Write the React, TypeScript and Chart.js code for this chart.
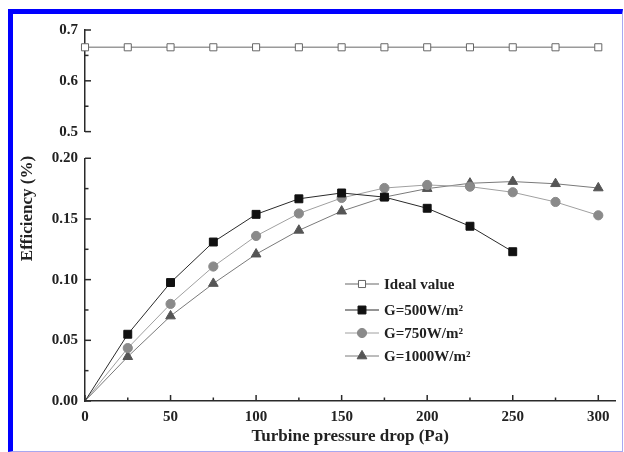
import React, { useEffect, useRef } from 'react';
import { Chart, registerables } from 'chart.js';

Chart.register(...registerables);

// ---- data ----
const pressureDrop = [0, 25, 50, 75, 100, 125, 150, 175, 200, 225, 250, 275, 300];
const idealValue = [0.666, 0.666, 0.666, 0.666, 0.666, 0.666, 0.666, 0.666, 0.666, 0.666, 0.666, 0.666, 0.666];
const g500 = [0, 0.055, 0.0976, 0.131, 0.1538, 0.1666, 0.1714, 0.168, 0.1588, 0.144, 0.123];
const g750 = [0, 0.0436, 0.08, 0.1108, 0.136, 0.1545, 0.1673, 0.1755, 0.178, 0.1766, 0.172, 0.164, 0.153];
const g1000 = [0, 0.0365, 0.07, 0.0968, 0.121, 0.1406, 0.1564, 0.168, 0.175, 0.1794, 0.1808, 0.179, 0.1755];
const seriesLabels = ['Ideal value', 'G=500W/m\u00B2', 'G=750W/m\u00B2', 'G=1000W/m\u00B2'];

const xTickLabels = ['0', '50', '100', '150', '200', '250', '300'];
const yTopTickLabels = ['0.5', '0.6', '0.7'];
const yBotTickLabels = ['0.00', '0.05', '0.10', '0.15', '0.20'];

const xTitle = 'Turbine pressure drop (Pa)';
const yTitle = 'Efficiency (%)';

const FONT = "'Liberation Serif', 'Times New Roman', serif";
const AXIS = '#2a2a2a';

const toPoints = (ys: number[]) => ys.map((y, i) => ({ x: pressureDrop[i], y }));

function labelFor(id: string, v: number): string {
  if (id === 'x') {
    const s = String(Math.round(v));
    return Math.abs(v - Math.round(v)) < 1e-6 && xTickLabels.includes(s) ? s : '';
  }
  if (id === 'yTop') {
    const s = v.toFixed(1);
    return Math.abs(v - parseFloat(s)) < 1e-6 && yTopTickLabels.includes(s) ? s : '';
  }
  const s = v.toFixed(2);
  return Math.abs(v - parseFloat(s)) < 1e-6 && yBotTickLabels.includes(s) ? s : '';
}

const tickPlugin = {
  id: 'innerTicks',
  afterDatasetsDraw(chart: any) {
    const ctx = chart.ctx;
    ctx.save();
    ctx.strokeStyle = AXIS;
    ctx.lineWidth = 1.5;
    for (const id of ['yTop', 'yBot']) {
      const s = chart.scales[id];
      const x0 = s.right;
      s.ticks.forEach((t: any) => {
        const y = s.getPixelForValue(t.value);
        const len = labelFor(id, t.value) ? 6 : 3.5;
        ctx.beginPath();
        ctx.moveTo(x0, y);
        ctx.lineTo(x0 + len, y);
        ctx.stroke();
      });
    }
    const sx = chart.scales.x;
    const y0 = sx.top;
    sx.ticks.forEach((t: any) => {
      if (Math.abs(t.value / 25 - Math.round(t.value / 25)) > 1e-6) return;
      const x = sx.getPixelForValue(t.value);
      const len = labelFor('x', t.value) ? 6 : 3.5;
      ctx.beginPath();
      ctx.moveTo(x, y0);
      ctx.lineTo(x, y0 - len);
      ctx.stroke();
    });
    ctx.restore();
  },
};

const yTitlePlugin = {
  id: 'yTitle',
  afterDraw(chart: any) {
    const ctx = chart.ctx;
    const area = chart.chartArea;
    ctx.save();
    ctx.translate(15, (area.top + area.bottom) / 2 - 7);
    ctx.rotate(-Math.PI / 2);
    ctx.font = `bold 17px ${FONT}`;
    ctx.fillStyle = '#222';
    ctx.textAlign = 'center';
    ctx.textBaseline = 'middle';
    ctx.fillText(yTitle, 0, 0);
    ctx.restore();
  },
};

function drawMarker(ctx: CanvasRenderingContext2D, style: string, x: number, y: number, r: number, fill: string, stroke: string) {
  ctx.beginPath();
  if (style === 'rect') {
    const h = r * Math.SQRT1_2;
    ctx.rect(x - h, y - h, 2 * h, 2 * h);
  } else if (style === 'triangle') {
    ctx.moveTo(x, y - r);
    ctx.lineTo(x + r * Math.sin((2 * Math.PI) / 3), y - r * Math.cos((2 * Math.PI) / 3));
    ctx.lineTo(x + r * Math.sin((4 * Math.PI) / 3), y - r * Math.cos((4 * Math.PI) / 3));
    ctx.closePath();
  } else {
    ctx.arc(x, y, r, 0, Math.PI * 2);
  }
  ctx.fillStyle = fill;
  ctx.fill();
  ctx.strokeStyle = stroke;
  ctx.lineWidth = 1;
  ctx.stroke();
}

const legendPlugin = {
  id: 'innerLegend',
  afterDraw(chart: any) {
    const ctx = chart.ctx;
    const rowsY = [270, 296, 319, 342];
    ctx.save();
    ctx.font = `bold 15px ${FONT}`;
    ctx.textBaseline = 'middle';
    ctx.textAlign = 'left';
    chart.data.datasets.forEach((ds: any, i: number) => {
      const y = rowsY[i];
      ctx.strokeStyle = ds.borderColor;
      ctx.lineWidth = ds.borderWidth;
      ctx.beginPath();
      ctx.moveTo(332, y);
      ctx.lineTo(366, y);
      ctx.stroke();
      drawMarker(ctx, ds.pointStyle, 349, y, ds.legendRadius, ds.pointBackgroundColor, ds.pointBorderColor);
      ctx.fillStyle = '#222';
      ctx.fillText(ds.label, 371, y + 1);
    });
    ctx.restore();
  },
};

// no marker at the origin for measured series
const hideOrigin = (r: number) => (c: any) => (c.dataIndex === 0 ? 0 : r);

export default function App() {
  const ref = useRef<HTMLCanvasElement | null>(null);

  useEffect(() => {
    if (!ref.current) return;
    const tickFont = { family: FONT, size: 15, weight: 'bold' as const };
    const yCommon = (id: string, step: number) => ({
      type: 'linear' as const,
      position: 'left' as const,
      stack: 'y',
      grid: { display: false, drawTicks: false },
      border: { display: true, color: AXIS, width: 1.5 },
      ticks: {
        stepSize: step,
        autoSkip: false,
        includeBounds: false,
        padding: 7,
        color: '#222',
        font: tickFont,
        callback: (v: any) => labelFor(id, Number(v)),
      },
      afterFit: (s: any) => {
        s.width = 72;
      },
    });

    const chart = new Chart(ref.current, {
      type: 'line',
      data: {
        datasets: [
          {
            label: seriesLabels[0],
            data: toPoints(idealValue),
            yAxisID: 'yTop',
            borderColor: '#9a9a9a',
            borderWidth: 1.5,
            pointStyle: 'rect',
            pointRadius: 5,
            legendRadius: 5,
            pointBackgroundColor: '#ffffff',
            pointBorderColor: '#666666',
            pointBorderWidth: 1,
            clip: false,
          },
          {
            label: seriesLabels[1],
            data: toPoints(g500),
            yAxisID: 'yBot',
            borderColor: '#2a2a2a',
            borderWidth: 1,
            pointStyle: 'rect',
            pointRadius: hideOrigin(5.6),
            legendRadius: 5.6,
            pointBackgroundColor: '#111111',
            pointBorderColor: '#111111',
            pointBorderWidth: 1,
            clip: false,
          },
          {
            label: seriesLabels[2],
            data: toPoints(g750),
            yAxisID: 'yBot',
            borderColor: '#a0a0a0',
            borderWidth: 1,
            pointStyle: 'circle',
            pointRadius: hideOrigin(4.6),
            legendRadius: 4.6,
            pointBackgroundColor: '#8a8a8a',
            pointBorderColor: '#8a8a8a',
            pointBorderWidth: 1,
            clip: false,
          },
          {
            label: seriesLabels[3],
            data: toPoints(g1000),
            yAxisID: 'yBot',
            borderColor: '#7a7a7a',
            borderWidth: 1,
            pointStyle: 'triangle',
            pointRadius: hideOrigin(5.6),
            legendRadius: 5.6,
            pointBackgroundColor: '#555555',
            pointBorderColor: '#555555',
            pointBorderWidth: 1,
            clip: false,
          },
        ] as any,
      },
      options: {
        responsive: false,
        animation: false,
        events: [],
        layout: { padding: { left: 0, right: 2, top: 11, bottom: 0 } },
        plugins: {
          legend: { display: false },
          tooltip: { enabled: false },
          title: { display: false },
        },
        scales: {
          x: {
            type: 'linear',
            min: 0,
            max: 310,
            grid: { display: false, drawTicks: false },
            border: { display: true, color: AXIS, width: 1.5 },
            ticks: {
              stepSize: 25,
              autoSkip: false,
              includeBounds: false,
              maxRotation: 0,
              padding: 7,
              color: '#222',
              font: tickFont,
              callback: (v: any) => labelFor('x', Number(v)),
            },
            title: {
              display: true,
              text: xTitle,
              color: '#222',
              font: { family: FONT, size: 17, weight: 'bold' },
              padding: { top: 0, bottom: 4 },
            },
            afterFit: (s: any) => {
              s.height = 50;
            },
          },
          // stacked scales are laid out bottom-first in definition order
          yBot: {
            ...yCommon('yBot', 0.025),
            min: 0,
            max: 0.2,
            stackWeight: 246,
          },
          yGap: {
            type: 'linear',
            position: 'left',
            stack: 'y',
            stackWeight: 27,
            min: 0,
            max: 1,
            grid: { display: false, drawTicks: false },
            border: { display: false },
            ticks: { display: false },
            afterFit: (s: any) => {
              s.width = 72;
            },
          },
          yTop: {
            ...yCommon('yTop', 0.05),
            min: 0.5,
            max: 0.7,
            stackWeight: 103,
          },
        } as any,
      },
      plugins: [tickPlugin, yTitlePlugin, legendPlugin],
    });
    return () => chart.destroy();
  }, []);

  return (
    <div
      style={{
        position: 'absolute',
        left: 8,
        top: 9,
        width: 615,
        height: 443,
        boxSizing: 'border-box',
        borderTop: '5px solid #0000ff',
        borderLeft: '5px solid #0000ff',
        borderRight: '1px solid #a8a8f0',
        borderBottom: '1px solid #a8a8f0',
        background: '#ffffff',
      }}
    >
      <canvas ref={ref} width={609} height={437} style={{ display: 'block', width: 609, height: 437 }} />
    </div>
  );
}
